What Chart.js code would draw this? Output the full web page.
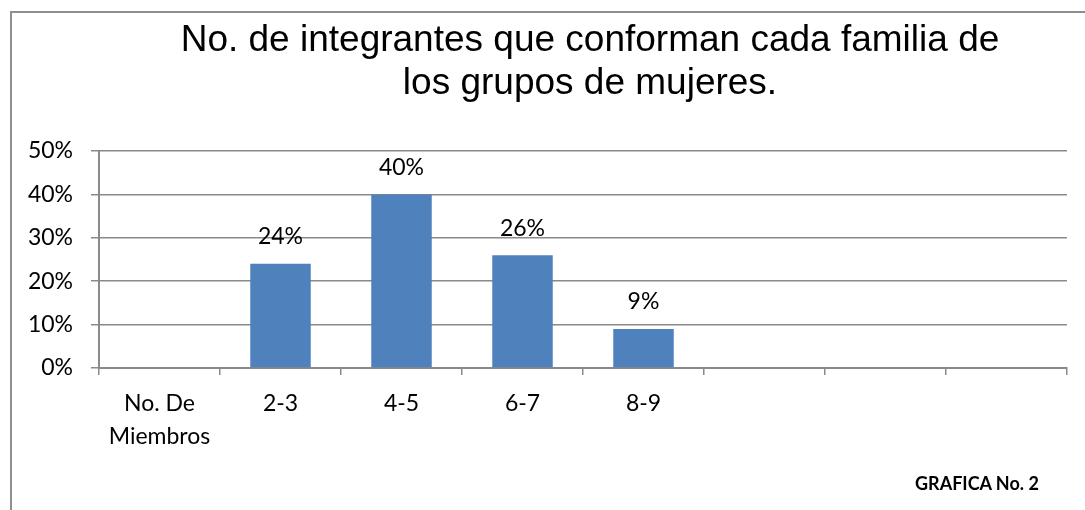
<!DOCTYPE html>
<html>
<head>
<meta charset="utf-8">
<script src="https://cdn.jsdelivr.net/npm/chart.js@4/dist/chart.umd.min.js"></script>
<style>
  html, body { margin: 0; padding: 0; background: #fff; }
  #wrap { position: relative; width: 1085px; height: 510px; overflow: hidden; }
  #frame { position: absolute; left: 10px; top: 11px; width: 1200px; height: 600px;
           border-left: 2px solid #8f8f8f; border-top: 2px solid #8f8f8f; }
  #title { position: absolute; left: 95px; width: 990px; top: 17px; text-align: center;
           font-family: "Liberation Sans", Arial, sans-serif; font-size: 37px; line-height: 43px;
           color: #000; white-space: nowrap; }
  #note { position: absolute; left: 915px; top: 472px; font-family: Lato, sans-serif;
          font-weight: bold; font-size: 18px; color: #000; white-space: nowrap; }
  canvas { position: absolute; left: 0; top: 0; }
</style>
</head>
<body>
<div id="wrap">
  <div id="frame"></div>
  <canvas id="c" width="1085" height="510"></canvas>
  <div id="title">No. de integrantes que conforman cada familia de<br>los grupos de mujeres.</div>
  <div id="note">GRAFICA No. 2</div>
</div>
<script>
const categories = [["No. De", "Miembros"], "2-3", "4-5", "6-7", "8-9", "", "", ""];
const percentages = [null, 24, 40, 26, 9, null, null, null];
const yTicks = [0, 10, 20, 30, 40, 50];

const gridColor = "#8a8a8a";
const labelFont = { family: "Lato, 'Open Sans', sans-serif", size: 23 };

const valueLabels = {
  id: "valueLabels",
  afterDatasetsDraw(chart) {
    const ctx = chart.ctx;
    const meta = chart.getDatasetMeta(0);
    ctx.save();
    ctx.font = "23px Lato, 'Open Sans', sans-serif";
    ctx.fillStyle = "#000";
    ctx.textAlign = "center";
    ctx.textBaseline = "alphabetic";
    meta.data.forEach((bar, i) => {
      const v = percentages[i];
      if (v === null || v === undefined) return;
      ctx.fillText(v + "%", bar.x, bar.y - 19.5);
    });
    ctx.restore();
  }
};

new Chart(document.getElementById("c"), {
  type: "bar",
  data: {
    labels: categories,
    datasets: [{
      data: percentages,
      backgroundColor: "#4F81BD",
      borderWidth: 0,
      barPercentage: 0.5,
      categoryPercentage: 1.0
    }]
  },
  options: {
    responsive: false,
    animation: false,
    events: [],
    layout: { padding: { top: 151, right: 18, bottom: 0, left: 0 } },
    plugins: {
      legend: { display: false },
      title: { display: false },
      tooltip: { enabled: false }
    },
    scales: {
      x: {
        type: "category",
        offset: true,
        grid: {
          offset: true,
          drawOnChartArea: false,
          drawTicks: true,
          tickLength: 7,
          color: gridColor,
          lineWidth: 1.5
        },
        border: { display: true, color: gridColor, width: 2 },
        ticks: {
          font: { ...labelFont, lineHeight: 1.435 },
          color: "#000",
          padding: 12,
          maxRotation: 0,
          minRotation: 0,
          autoSkip: false
        },
        afterFit(scale) { scale.height = 142; }
      },
      y: {
        min: 0,
        max: 50,
        afterBuildTicks(scale) { scale.ticks = yTicks.map(v => ({ value: v })); },
        grid: {
          color: gridColor,
          lineWidth: 1.5,
          drawTicks: true,
          tickLength: 8
        },
        border: { display: true, color: gridColor, width: 2 },
        ticks: {
          font: labelFont,
          color: "#000",
          padding: 18,
          callback: (v) => v + "%"
        },
        afterFit(scale) { scale.width = 99; }
      }
    }
  },
  plugins: [valueLabels]
});
</script>
</body>
</html>
